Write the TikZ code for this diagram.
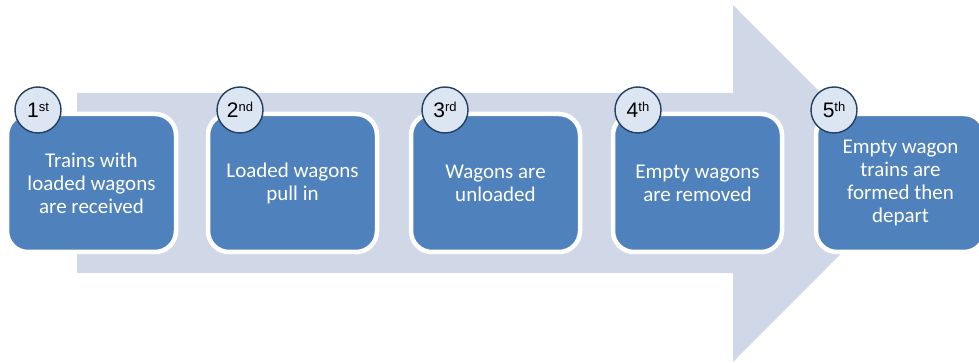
\documentclass[tikz,border=0pt]{standalone}
\usepackage{fontspec}
\newfontfamily\bodyfont{Carlito}
\newfontfamily\numfont{Liberation Sans}
\definecolor{arrowfill}{HTML}{D0D8E8}
\definecolor{stepblue}{HTML}{4F81BD}
\definecolor{badgefill}{HTML}{DCE6F2}
\definecolor{badgeline}{HTML}{243F60}
\newcommand{\ordinal}[2]{{\fontsize{21}{21}\selectfont #1}\raisebox{5.5pt}{\fontsize{13}{13}\selectfont #2}}
\begin{document}
\begin{tikzpicture}[x=1pt,y=-1pt,
  stepbox/.style={rectangle, rounded corners=21pt, fill=stepblue, draw=white,
    line width=4.5pt, minimum width=169pt, minimum height=138pt, inner sep=0pt,
    text=white, align=center, font=\bodyfont\fontsize{21}{23}\selectfont},
  badge/.style={circle, fill=badgefill, draw=badgeline, line width=1.4pt,
    minimum size=46pt, inner sep=0pt, text=black, font=\numfont}]
  \path[use as bounding box] (0,0) rectangle (979,363);
  \clip (0,0) rectangle (979,363);

  % background process arrow
  \fill[arrowfill] (77,93) -- (733,93) -- (733,5) -- (911,183.5)
    -- (733,362) -- (733,273) -- (77,273) -- cycle;

  % process steps
  \node[stepbox] (s1) at (91.5,183) {Trains with\\loaded wagons\\are received};
  \node[stepbox] (s2) at (292.5,183) {Loaded wagons\\pull in};
  \node[stepbox] (s3) at (495.5,183) {Wagons are\\unloaded};
  \node[stepbox] (s4) at (697.5,183) {Empty wagons\\are removed};
  \node[stepbox] (s5) at (900.5,183) {Empty wagon\\trains are\\formed then\\depart};

  % step numbers
  \node[badge] (n1) at (38,110)  {\ordinal{1}{st}};
  \node[badge] (n2) at (240,110) {\ordinal{2}{nd}};
  \node[badge] (n3) at (445,110) {\ordinal{3}{rd}};
  \node[badge] (n4) at (638,110) {\ordinal{4}{th}};
  \node[badge] (n5) at (834,110) {\ordinal{5}{th}};
\end{tikzpicture}
\end{document}
